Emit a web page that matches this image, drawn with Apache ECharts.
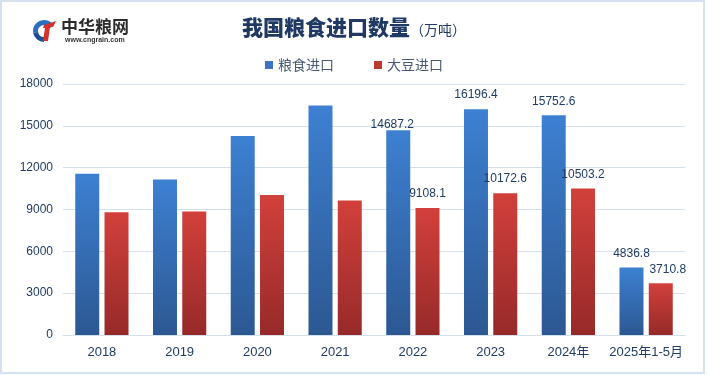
<!DOCTYPE html>
<html>
<head>
<meta charset="utf-8">
<style>
  html, body { margin: 0; padding: 0; background: #fff; }
  #chart { width: 708px; height: 375px; }
</style>
<script src="https://cdn.jsdelivr.net/npm/echarts@6/dist/echarts.min.js"></script>
</head>
<body>
<div id="chart"></div>
<script>
// data, 万吨
const categories = ['2018', '2019', '2020', '2021', '2022', '2023', '2024年', '2025年1-5月'];
const grainImports = [11555, 11144, 14262, 16454, 14687.2, 16196.4, 15752.6, 4836.8];
const soyImports = [8803, 8851, 10033, 9652, 9108.1, 10172.6, 10503.2, 3710.8];
const yTicks = [0, 3000, 6000, 9000, 12000, 15000, 18000];
const labelStart = 4; // values printed from 2022 on

const FONT = '"Liberation Sans", "Noto Sans CJK SC", sans-serif';
const TEXT_BLUE = '#1f3b63';

const chart = echarts.init(document.getElementById('chart'), null, { renderer: 'canvas' });

function grad(top, bottom) {
    return new echarts.graphic.LinearGradient(0, 0, 0, 1, [
        { offset: 0, color: top },
        { offset: 1, color: bottom }
    ]);
}

function withLabels(values, tweaks) {
    return values.map(function (v, i) {
        const item = { value: v, label: { show: i >= labelStart } };
        if (tweaks[i]) Object.assign(item.label, tweaks[i]);
        return item;
    });
}

const option = {
    animation: false,
    backgroundColor: '#fff',
    textStyle: { fontFamily: FONT },
    title: {
        text: '我国粮食进口数量{u|（万吨）}',
        left: 'center',
        top: 12,
        textStyle: {
            fontFamily: '"Noto Sans CJK SC", sans-serif',
            fontSize: 21,
            fontWeight: 900,
            color: '#1f3864',
            rich: {
                u: { fontSize: 14, fontWeight: 'normal', color: '#1f3864', fontFamily: '"Noto Sans CJK SC", sans-serif', padding: [4, 0, 0, 0] }
            }
        }
    },
    legend: {
        top: 53,
        left: 'center',
        itemWidth: 8,
        itemHeight: 8,
        itemGap: 40,
        icon: 'rect',
        textStyle: { fontSize: 14, color: '#4a5a73', fontFamily: '"Noto Sans CJK SC", sans-serif' },
        data: [
            { name: '粮食进口', itemStyle: { color: '#3a75c4' } },
            { name: '大豆进口', itemStyle: { color: '#c0392f' } }
        ]
    },
    grid: { left: 63, right: 23, top: 84, bottom: 40 },
    xAxis: {
        type: 'category',
        data: categories,
        axisLine: { lineStyle: { color: '#d5dfec', width: 1 } },
        axisTick: { show: false },
        axisLabel: { color: TEXT_BLUE, fontSize: 13, margin: 11, interval: 0 }
    },
    yAxis: {
        type: 'value',
        min: yTicks[0],
        max: yTicks[yTicks.length - 1],
        interval: yTicks[1] - yTicks[0],
        axisLine: { show: false },
        axisTick: { show: false },
        axisLabel: { color: TEXT_BLUE, fontSize: 12, margin: 10, formatter: function (v) { return String(v); } },
        splitLine: { lineStyle: { color: '#d5dfec', width: 1 } }
    },
    series: [
        {
            name: '粮食进口',
            type: 'bar',
            barWidth: 24,
            barGap: '22%',
            itemStyle: { color: grad('#3d80d2', '#2c5892') },
            label: { position: 'top', distance: 8, color: TEXT_BLUE, fontSize: 12 },
            data: withLabels(grainImports, { 4: { distance: 0, offset: [-6, 0] } })
        },
        {
            name: '大豆进口',
            type: 'bar',
            barWidth: 24,
            itemStyle: { color: grad('#d2403b', '#962a29') },
            label: { position: 'top', distance: 8, color: TEXT_BLUE, fontSize: 12 },
            data: withLabels(soyImports, { 7: { offset: [7, 0] } })
        }
    ],
    graphic: [
        {
            type: 'rect',
            silent: true,
            z: -10,
            shape: { x: 1, y: 1, width: 703, height: 372 },
            style: { fill: null, stroke: '#d6e2f1', lineWidth: 2 }
        },
        // logo: blue G ring and red stroke
        {
            type: 'sector',
            silent: true,
            shape: { cx: 44, cy: 31, r: 11, r0: 6, startAngle: Math.PI * 0.95, endAngle: Math.PI * 1.85, clockwise: true },
            style: { fill: '#2a6fc0' }
        },
        {
            type: 'sector',
            silent: true,
            shape: { cx: 44, cy: 31, r: 11, r0: 6, startAngle: Math.PI * 0.5, endAngle: Math.PI * 0.95, clockwise: true },
            style: { fill: '#1d4f95' }
        },
        {
            type: 'polygon',
            silent: true,
            shape: { points: [[44, 25], [56, 21], [53, 27], [50, 27], [48, 41], [43, 41], [45, 28], [43, 28]] },
            style: { fill: '#d8312b' }
        },
        {
            type: 'text',
            silent: true,
            left: 61,
            top: 18,
            style: { text: '中华粮网', font: 'bold 17px "Noto Sans CJK SC", sans-serif', fill: '#2b2b2b' }
        },
        {
            type: 'text',
            silent: true,
            left: 65,
            top: 37,
            style: { text: 'www.cngrain.com', font: 'bold 7px "Liberation Sans", sans-serif', fill: '#333' }
        }
    ]
};

chart.setOption(option);
</script>
</body>
</html>
